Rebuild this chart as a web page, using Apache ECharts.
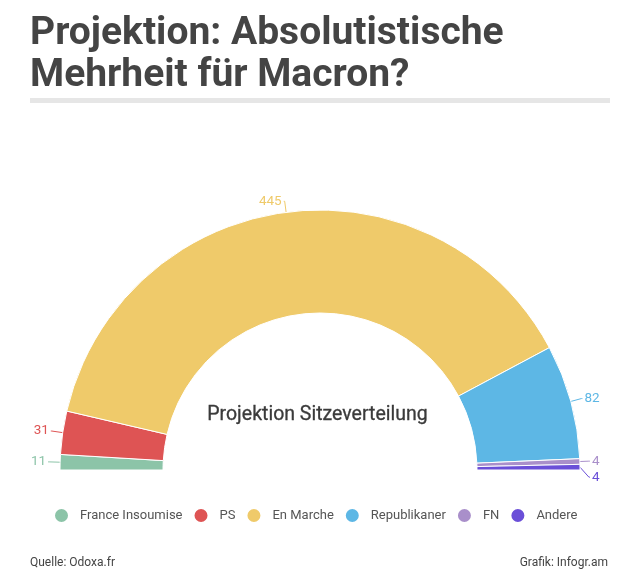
<!DOCTYPE html>
<html>
<head>
<meta charset="utf-8">
<script src="https://cdn.jsdelivr.net/npm/echarts@6/dist/echarts.min.js"></script>
<style>
  html, body { margin: 0; padding: 0; background: #fff; }
  #chart { width: 635px; height: 581px; }
</style>
</head>
<body>
<div id="chart"></div>
<script>
// Sitzprojektion (Odoxa)
const parties = ['France Insoumise', 'PS', 'En Marche', 'Republikaner', 'FN', 'Andere']
const seats = [11, 31, 445, 82, 4, 4]
const colors = ['#8cc4a8', '#de5454', '#efca6a', '#5db7e5', '#a98fca', '#6a4fd8']

const chart = echarts.init(document.getElementById('chart'))

const pieData = parties.map((name, i) => ({
  name: name,
  value: seats[i],
  itemStyle: { color: colors[i] },
  label: { color: colors[i] },
  labelLine: { lineStyle: { color: colors[i] } }
}))

const option = {
  textStyle: { fontFamily: 'Roboto' },
  animation: false,
  graphic: [
    {
      type: 'text',
      left: 30,
      top: 13,
      style: {
        text: 'Projektion: Absolutistische\nMehrheit für Macron?',
        font: 'bold 39px Roboto',
        lineHeight: 42,
        fill: '#444'
      }
    },
    {
      type: 'rect',
      shape: { x: 30, y: 98, width: 580, height: 5 },
      style: { fill: '#e6e6e6' }
    },
    {
      type: 'text',
      left: 'center',
      top: 405,
      style: {
        text: 'Projektion Sitzeverteilung',
        font: '19.5px Roboto',
        fill: '#3a3a3a',
        stroke: '#3a3a3a',
        lineWidth: 0.3
      }
    },
    {
      type: 'text',
      left: 30,
      top: 557,
      style: { text: 'Quelle: Odoxa.fr', font: '12px Roboto', fill: '#444' }
    },
    {
      type: 'text',
      right: 27,
      top: 557,
      style: { text: 'Grafik: Infogr.am', font: '12px Roboto', fill: '#444' }
    }
  ],
  legend: {
    top: 502,
    left: 48,
    icon: 'circle',
    itemWidth: 15,
    itemHeight: 15,
    itemGap: 10,
    textStyle: { fontSize: 13, color: '#555', padding: [0, 0, 0, 6] },
    data: parties
  },
  series: [
    {
      type: 'pie',
      center: [320, 470],
      radius: [157, 260],
      startAngle: 180,
      endAngle: 0,
      clockwise: true,
      avoidLabelOverlap: true,
      itemStyle: { borderColor: '#fff', borderWidth: 1 },
      label: {
        show: true,
        formatter: '{c}',
        fontSize: 13.5,
        distanceToLabelLine: 2
      },
      labelLine: { show: true, length: 11, length2: 1 },
      emphasis: { disabled: true },
      data: pieData
    }
  ]
}

chart.setOption(option)
</script>
</body>
</html>
